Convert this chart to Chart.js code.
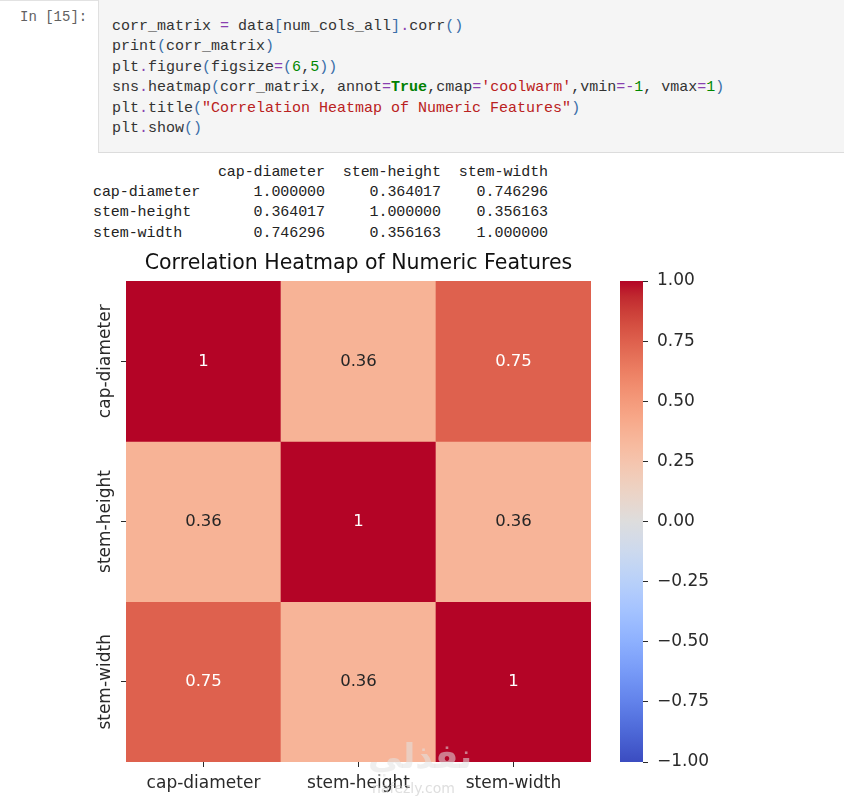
<!DOCTYPE html>
<html>
<head>
<meta charset="utf-8">
<script src="https://cdn.jsdelivr.net/npm/chart.js@4.4.1/dist/chart.umd.min.js"></script>
<style>
  body { margin: 0; background: #fff; width: 844px; height: 799px; position: relative; overflow: hidden; font-family: "DejaVu Sans", sans-serif; }
  .topline { position: absolute; left: 0; top: 0; width: 844px; height: 1px; background: #e2e2e2; }
  .prompt { position: absolute; left: 20px; top: 7px; font: 14px/20px "Liberation Mono", monospace; color: #616161; }
  .cell { position: absolute; left: 98px; top: 0; width: 746px; height: 152px; background: #f5f5f5; border-left: 1px solid #e0e0e0; border-bottom: 1px solid #dcdcdc; }
  .cell pre { position: absolute; left: 13px; top: 17px; }
  pre { margin: 0; font: 15px/20.4px "Liberation Mono", monospace; color: #333; }
  .op { color: #8a3fb0; }
  .br { color: #3a6ea8; }
  .kw { color: #008000; font-weight: bold; }
  .num { color: #008800; }
  .str { color: #ba2121; }
  .out { position: absolute; left: 93px; top: 163px; line-height: 20.2px; color: #222; letter-spacing: -0.08px; }
  canvas { position: absolute; }
  .wm1 { position: absolute; left: 368px; top: 736px; font: bold 34px "DejaVu Sans", sans-serif; color: rgba(225,225,225,0.55); }
  .wm2 { position: absolute; left: 372px; top: 780px; font: 14px "DejaVu Sans", sans-serif; color: rgba(200,200,200,0.6); }
</style>
</head>
<body>
<div class="topline"></div>
<div class="prompt">In [15]:</div>
<div class="cell"><pre>corr_matrix <span class="op">=</span> data<span class="br">[</span>num_cols_all<span class="br">]</span><span class="op">.</span>corr<span class="br">()</span>
print<span class="br">(</span>corr_matrix<span class="br">)</span>
plt<span class="op">.</span>figure<span class="br">(</span>figsize<span class="op">=</span><span class="br">(</span><span class="num">6</span>,<span class="num">5</span><span class="br">))</span>
sns<span class="op">.</span>heatmap<span class="br">(</span>corr_matrix, annot<span class="op">=</span><span class="kw">True</span>,cmap<span class="op">=</span><span class="str">'coolwarm'</span>,vmin<span class="op">=-</span><span class="num">1</span>, vmax<span class="op">=</span><span class="num">1</span><span class="br">)</span>
plt<span class="op">.</span>title<span class="br">(</span><span class="str">"Correlation Heatmap of Numeric Features"</span><span class="br">)</span>
plt<span class="op">.</span>show<span class="br">()</span></pre></div>
<pre class="out">              cap-diameter  stem-height  stem-width
cap-diameter      1.000000     0.364017    0.746296
stem-height       0.364017     1.000000    0.356163
stem-width        0.746296     0.356163    1.000000</pre>

<canvas id="heat" width="520" height="554" style="left:80px;top:245px;width:520px;height:554px"></canvas>
<canvas id="cbar" width="100" height="501" style="left:620px;top:271px;width:100px;height:501px"></canvas>
<div class="wm1">نفذلي</div>
<div class="wm2">nafezly.com</div>

<script>
// Correlation values, one row per feature
const features = ["cap-diameter", "stem-height", "stem-width"];
const capDiameterRow = [1.000000, 0.364017, 0.746296];
const stemHeightRow = [0.364017, 1.000000, 0.356163];
const stemWidthRow = [0.746296, 0.356163, 1.000000];
const rows = [capDiameterRow, stemHeightRow, stemWidthRow];

// Colour scale limits and colourbar ticks
const vmin = -1, vmax = 1;
const colorbarTicks = [-1, -0.75, -0.5, -0.25, 0, 0.25, 0.5, 0.75, 1];

// coolwarm colour map (33 stops)
const coolwarm = [
  [59,76,192],[68,90,204],[77,104,215],[87,117,225],[98,130,234],[108,142,241],
  [119,154,247],[130,165,251],[141,176,254],[152,185,255],[163,194,255],[174,201,253],
  [184,208,249],[194,213,244],[204,217,238],[213,219,230],[221,221,221],[229,216,209],
  [236,211,197],[241,204,185],[245,196,173],[247,187,160],[247,177,148],[247,166,135],
  [244,154,123],[241,141,111],[236,127,99],[229,112,88],[222,96,77],[213,80,66],
  [203,62,56],[192,40,47],[180,4,38]
];

function cmap(v) {
  let t = (v - vmin) / (vmax - vmin);
  t = Math.min(1, Math.max(0, t));
  const p = t * (coolwarm.length - 1);
  const i = Math.min(coolwarm.length - 2, Math.floor(p));
  const f = p - i;
  return coolwarm[i].map((c, k) => Math.round(c + (coolwarm[i + 1][k] - c) * f));
}
const rgb = c => `rgb(${c[0]},${c[1]},${c[2]})`;

// same rule seaborn uses to pick annotation colour
function luminance(c) {
  const lin = c.map(x => { x /= 255; return x <= 0.03928 ? x / 12.92 : Math.pow((x + 0.055) / 1.055, 2.4); });
  return 0.2126 * lin[0] + 0.7152 * lin[1] + 0.0722 * lin[2];
}

const FONT = "DejaVu Sans";
const TICK_COLOR = "#2a2a2a";
const TICK_SIZE = 17;

// write the value into each cell
const annotPlugin = {
  id: "annot",
  afterDatasetsDraw(chart) {
    const ctx = chart.ctx;
    ctx.save();
    ctx.font = `16.5px "${FONT}"`;
    ctx.textAlign = "center";
    ctx.textBaseline = "middle";
    chart.data.datasets.forEach((ds, di) => {
      chart.getDatasetMeta(di).data.forEach((el, j) => {
        const v = ds.values[j];
        ctx.fillStyle = luminance(cmap(v)) > 0.408 ? "#262626" : "#ffffff";
        ctx.fillText(String(Number(v.toPrecision(2))), el.x, (el.y + el.base) / 2);
      });
    });
    ctx.restore();
  }
};

// rotated row labels on the left
const rowLabelPlugin = {
  id: "rowLabels",
  afterDraw(chart) {
    const s = chart.scales.y, ctx = chart.ctx;
    ctx.save();
    ctx.font = `${TICK_SIZE}px "${FONT}"`;
    ctx.fillStyle = TICK_COLOR;
    ctx.textAlign = "center";
    ctx.textBaseline = "middle";
    features.forEach((f, i) => {
      ctx.save();
      ctx.translate(s.right - 20, s.getPixelForValue(i + 0.5));
      ctx.rotate(-Math.PI / 2);
      ctx.fillText(f, 0, 0);
      ctx.restore();
    });
    ctx.restore();
  }
};

new Chart(document.getElementById("heat"), {
  type: "bar",
  data: {
    labels: features,
    datasets: rows.map((row, i) => ({
      label: features[i],
      data: row.map(() => [i, i + 1]),
      values: row,
      backgroundColor: row.map(v => rgb(cmap(v))),
      borderWidth: 0,
      grouped: false,
      categoryPercentage: 1,
      barPercentage: 1
    }))
  },
  options: {
    responsive: false,
    animation: false,
    layout: { padding: { right: 9 } },
    plugins: {
      legend: { display: false },
      tooltip: { enabled: false },
      title: {
        display: true,
        text: "Correlation Heatmap of Numeric Features",
        fullSize: false,
        color: "#111",
        font: { family: FONT, size: 20.5, weight: "normal" },
        padding: { top: 6, bottom: 5.5 }
      }
    },
    scales: {
      x: {
        type: "category",
        grid: { display: true, offset: false, drawOnChartArea: false, tickLength: 5, color: TICK_COLOR },
        border: { display: false },
        ticks: { color: TICK_COLOR, font: { family: FONT, size: TICK_SIZE }, padding: 6, maxRotation: 0 },
        afterFit(s) { s.height = 37; }
      },
      y: {
        type: "linear",
        min: 0,
        max: 3,
        reverse: true,
        afterBuildTicks(s) { s.ticks = features.map((f, i) => ({ value: i + 0.5 })); },
        grid: { display: true, drawOnChartArea: false, tickLength: 5, color: TICK_COLOR },
        border: { display: false },
        ticks: { display: false },
        afterFit(s) { s.width = 46; }
      }
    }
  },
  plugins: [annotPlugin, rowLabelPlugin]
});

// colourbar
new Chart(document.getElementById("cbar"), {
  type: "bar",
  data: {
    labels: [""],
    datasets: [{
      data: [[vmin, vmax]],
      backgroundColor(ctx) {
        const a = ctx.chart.chartArea;
        if (!a) return null;
        const g = ctx.chart.ctx.createLinearGradient(0, a.bottom, 0, a.top);
        coolwarm.forEach((c, i) => g.addColorStop(i / (coolwarm.length - 1), rgb(c)));
        return g;
      },
      borderWidth: 0,
      categoryPercentage: 1,
      barPercentage: 1
    }]
  },
  options: {
    responsive: false,
    animation: false,
    layout: { padding: { top: 10, bottom: 10, left: 0, right: 0 } },
    plugins: { legend: { display: false }, tooltip: { enabled: false } },
    scales: {
      x: { display: false },
      y: {
        position: "right",
        min: vmin,
        max: vmax,
        afterBuildTicks(s) { s.ticks = colorbarTicks.map(v => ({ value: v })); },
        grid: { display: true, drawOnChartArea: false, tickLength: 5, color: TICK_COLOR },
        border: { display: false },
        ticks: {
          color: TICK_COLOR,
          font: { family: FONT, size: TICK_SIZE },
          padding: 9,
          callback: v => (v < 0 ? "\u2212" : "") + Math.abs(v).toFixed(2)
        },
        afterFit(s) { s.width = 77; s.paddingTop = 0; s.paddingBottom = 0; }
      }
    }
  }
});
</script>
</body>
</html>
